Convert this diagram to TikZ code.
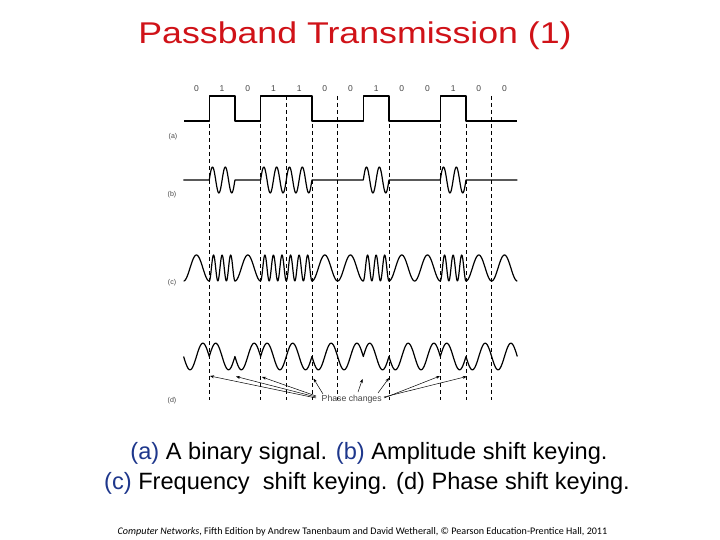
\documentclass[tikz,border=0pt]{standalone}
\usepackage{fontspec}
\setmainfont{Liberation Sans}
\newfontfamily\footfont{Carlito}
\usetikzlibrary{arrows.meta}
\definecolor{titlered}{RGB}{208,18,24}
\definecolor{capblue}{RGB}{30,55,140}
\definecolor{labgray}{RGB}{70,70,70}
\begin{document}
\begin{tikzpicture}[x=1pt,y=-1pt,
  sig/.style={line width=1.2pt,line join=round},
  gridline/.style={line width=0.9pt,dash pattern=on 4pt off 3pt},
  bitlab/.style={font=\fontsize{8.5}{10}\selectfont,text=labgray,inner sep=0pt},
  rowlab/.style={font=\fontsize{7}{8}\selectfont,text=labgray,inner sep=0pt},
  pcarrow/.style={line width=0.5pt,-{Stealth[length=4pt,width=3pt]}},
  captext/.style={font=\fontsize{23.6}{28}\selectfont,anchor=base,inner sep=0pt}]
\useasboundingbox (0,0) rectangle (720,540);
\fill[white] (0,0) rectangle (720,540);
\def\xo{183.6}
\def\bw{25.67}
% title
\node[font=\fontsize{30}{36}\selectfont,text=titlered,anchor=base,inner sep=0pt] (title) at (355,44) {\scalebox{1.19}[1]{Passband Transmission (1)}};
% bit labels
\foreach \b [count=\i from 0] in {0,1,0,1,1,0,0,1,0,0,1,0,0}
  \node[bitlab] (bit\i) at ({\xo+(\i+0.5)*\bw},88.5) {\b};
% row labels
\node[rowlab] (la) at (173,136.5) {(a)};
\node[rowlab] (lb) at (172,195) {(b)};
\node[rowlab] (lc) at (172,283) {(c)};
\node[rowlab] (ld) at (172,400.5) {(d)};
% dashed grid
\foreach \k in {1,3,4,5,6,8,10,11,12}
  \draw[gridline] ({\xo+\k*\bw},96) -- ({\xo+\k*\bw},400);
% (a) binary signal
\draw[sig] (184,121) -- (209.27,121) -- (209.27,96) -- (234.94,96) -- (234.94,121)
  -- (260.61,121) -- (260.61,96) -- (311.95,96) -- (311.95,121)
  -- (363.29,121) -- (363.29,96) -- (388.96,96) -- (388.96,121)
  -- (440.30,121) -- (440.30,96) -- (465.97,96) -- (465.97,121) -- (517,121);
% (b) ASK
\draw[sig] (184,180)
  \foreach \b [count=\i from 0] in {0,1,0,1,1,0,0,1,0,0,1,0,0}{
    -- plot[domain=0:1,samples=50,variable=\t] ({\xo+(\i+\t)*\bw},{180-\b*13*sin(720*\t)})
  };
% (c) FSK
\draw[sig] (\xo,281)
  \foreach \b [count=\i from 0] in {0,1,0,1,1,0,0,1,0,0,1,0,0}{
    -- plot[domain=0:1,samples=60,variable=\t] ({\xo+(\i+\t)*\bw},{268+13*cos(360*(1+2*\b)*\t)})
  };
% (d) PSK
\draw[sig] (\xo,356.5)
  \foreach \b [count=\i from 0] in {0,1,0,1,1,0,0,1,0,0,1,0,0}{
    -- plot[domain=0:1,samples=40,variable=\t] ({\xo+(\i+\t)*\bw},{356.5+13.3*sin(360*\t+180*\b)})
  };
% phase changes
\node[font=\fontsize{8.7}{10}\selectfont,text=labgray,inner sep=0pt] (pc) at (351.7,399) {Phase changes};
\coordinate (p1) at (210,376);
\coordinate (p2) at (236,376.5);
\coordinate (p3) at (262,377);
\coordinate (p4) at (313.5,378.5);
\coordinate (p5) at (362.5,379);
\coordinate (p6) at (389,378);
\coordinate (p7) at (440,376);
\coordinate (p8) at (466.7,376.5);
\coordinate (s1) at (316,398);
\coordinate (s2) at (316,397);
\coordinate (s3) at (316,396);
\coordinate (s4) at (323,394);
\coordinate (s5) at (358,392);
\coordinate (s6) at (378,393);
\coordinate (s7) at (384,398);
\coordinate (s8) at (384,397);
\foreach \n in {1,...,8}
  \draw[pcarrow] (s\n) -- (p\n);
% caption
\node[captext] (cap1) at (369,459) {\textcolor{capblue}{(a)} A binary signal. \textcolor{capblue}{(b)} Amplitude shift keying.};
\node[captext] (cap2) at (367,489) {\textcolor{capblue}{(c)} Frequency \ shift keying. (d) Phase shift keying.};
% footer
\node[font=\footfont\fontsize{10.1}{12}\selectfont,anchor=base,inner sep=0pt] (foot) at (362.5,534) {\textit{Computer Networks}, Fifth Edition by Andrew Tanenbaum and David Wetherall, © Pearson Education-Prentice Hall, 2011};
\end{tikzpicture}
\end{document}
